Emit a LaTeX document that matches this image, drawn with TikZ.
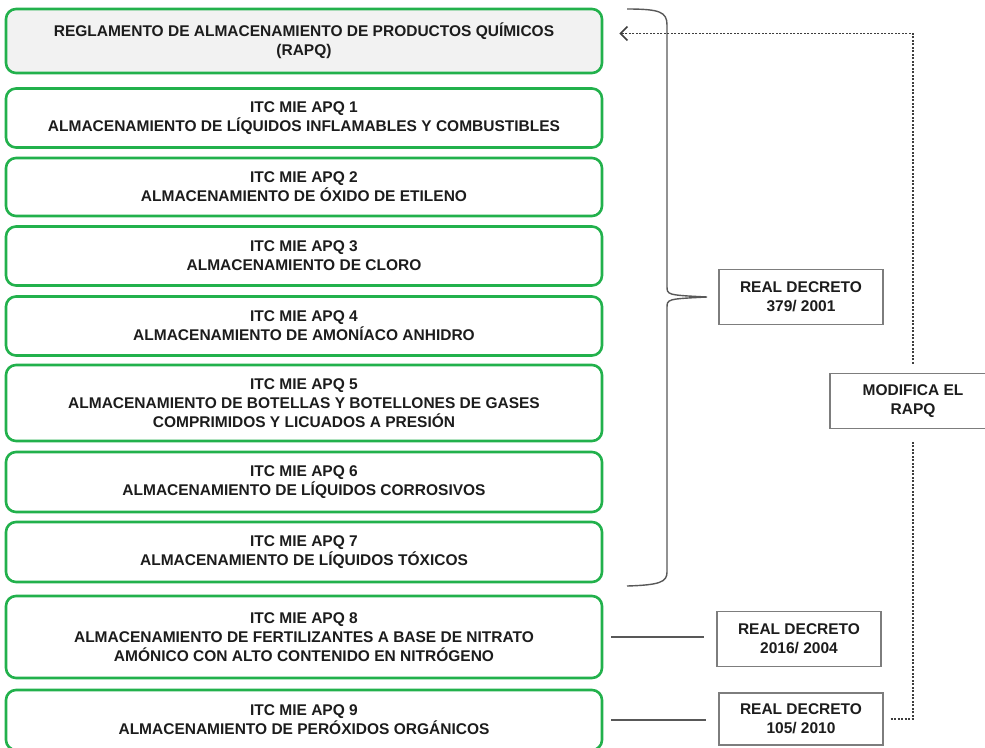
\documentclass[tikz,border=0pt]{standalone}
\usepackage{fontspec}
\setmainfont{Liberation Sans}
\usetikzlibrary{arrows.meta}
\definecolor{verde}{RGB}{34,177,76}
\definecolor{gris}{RGB}{125,125,125}
\definecolor{tinta}{RGB}{28,28,28}
\begin{document}
\begin{tikzpicture}[x=1pt,y=-1pt,
   texto/.style={text=tinta,align=center,inner sep=0pt,font=\fontsize{15.5}{19}\selectfont\bfseries},
   itc/.style={texto,draw=verde,line width=2.6pt,rounded corners=10pt,minimum width=596pt},
   decreto/.style={texto,draw=gris,line width=1.2pt,minimum width=164pt,minimum height=55pt},
   enlace/.style={draw=gris!70!black,line width=1.4pt},
   punteado/.style={draw=gris!50!black,line width=1.6pt,dash pattern=on 2pt off 1.5pt}]
  \useasboundingbox (0,0) rectangle (985,747);
  \clip (0,0) rectangle (985,747);
  \node[itc,fill=black!5,minimum height=64pt] (rapq) at (304,41)
     {REGLAMENTO DE ALMACENAMIENTO DE PRODUCTOS QUÍMICOS\\(RAPQ)};
  \node[itc,minimum height=59pt] (apq1) at (304,118)
     {ITC MIE APQ 1\\ALMACENAMIENTO DE LÍQUIDOS INFLAMABLES Y COMBUSTIBLES};
  \node[itc,minimum height=58pt] (apq2) at (304,187)
     {ITC MIE APQ 2\\ALMACENAMIENTO DE ÓXIDO DE ETILENO};
  \node[itc,minimum height=59pt] (apq3) at (304,256)
     {ITC MIE APQ 3\\ALMACENAMIENTO DE CLORO};
  \node[itc,minimum height=59pt] (apq4) at (304,326)
     {ITC MIE APQ 4\\ALMACENAMIENTO DE AMONÍACO ANHIDRO};
  \node[itc,minimum height=76pt] (apq5) at (304,403)
     {ITC MIE APQ 5\\ALMACENAMIENTO DE BOTELLAS Y BOTELLONES DE GASES\\COMPRIMIDOS Y LICUADOS A PRESIÓN};
  \node[itc,minimum height=60pt] (apq6) at (304,482)
     {ITC MIE APQ 6\\ALMACENAMIENTO DE LÍQUIDOS CORROSIVOS};
  \node[itc,minimum height=60pt] (apq7) at (304,552)
     {ITC MIE APQ 7\\ALMACENAMIENTO DE LÍQUIDOS TÓXICOS};
  \node[itc,minimum height=82pt] (apq8) at (304,637)
     {ITC MIE APQ 8\\ALMACENAMIENTO DE FERTILIZANTES A BASE DE NITRATO\\AMÓNICO CON ALTO CONTENIDO EN NITRÓGENO};
  \node[itc,minimum height=60pt] (apq9) at (304,720)
     {ITC MIE APQ 9\\ALMACENAMIENTO DE PERÓXIDOS ORGÁNICOS};
  \node[decreto] (rd1) at (801,297) {REAL DECRETO\\379/ 2001};
  \node[decreto] (rd2) at (799,639) {REAL DECRETO\\2016/ 2004};
  \node[decreto,minimum height=52pt] (rd3) at (801,719) {REAL DECRETO\\105/ 2010};
  \node[decreto,minimum width=166pt] (mod) at (913,401) {MODIFICA EL\\RAPQ};
  \coordinate (punta) at (707,297);
  \draw[enlace] (627,9) .. controls (660,9) and (667,12) .. (667,25) -- (667,286)
     .. controls (667,295) .. (punta) .. controls (667,299) .. (667,308) -- (667,572)
     .. controls (667,582) and (660,585) .. (627,586);
  \draw[enlace,shorten <=8pt,shorten >=12pt] (apq8.east) -- (apq8.east -| rd2.west);
  \draw[enlace,shorten <=8pt,shorten >=12pt] (apq9.east) -- (apq9.east -| rd3.west);
  \draw[punteado,shorten <=7pt,shorten >=13pt] (rd3.east) -| (mod.south);
  \draw[punteado,-{Straight Barb[length=7pt,width=14pt]},shorten <=9pt,shorten >=16pt]
     (mod.north) |- ([yshift=7.5pt]rapq.east);
\end{tikzpicture}
\end{document}
